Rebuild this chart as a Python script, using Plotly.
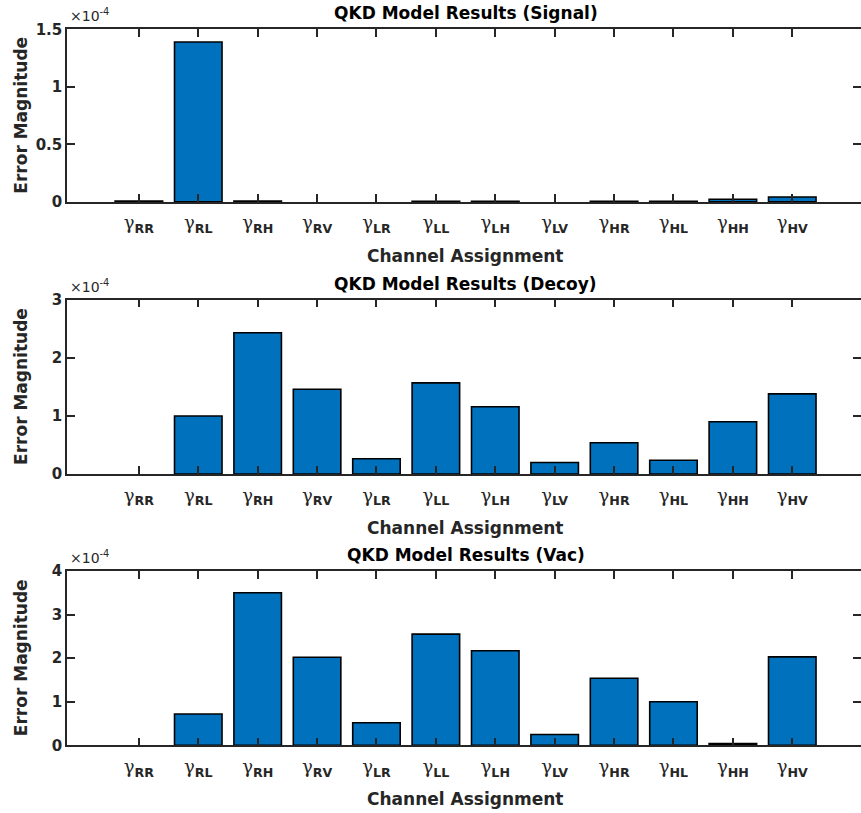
import plotly.graph_objects as go

categories = ["RR", "RL", "RH", "RV", "LR", "LL", "LH", "LV", "HR", "HL", "HH", "HV"]
tick_labels = ['<span style="font-family:DejaVu Serif">γ</span><sub><b>%s</b></sub>' % c for c in categories]

signal_vals = [0.008, 1.39, 0.008, 0.0, 0.0, 0.005, 0.005, 0.0, 0.005, 0.005, 0.023, 0.043]
decoy_vals = [0.0, 1.00, 2.43, 1.46, 0.265, 1.57, 1.16, 0.20, 0.54, 0.24, 0.90, 1.38]
vac_vals = [0.0, 0.72, 3.50, 2.02, 0.52, 2.55, 2.17, 0.25, 1.54, 1.00, 0.04, 2.03]
scale = 1e-4

panels = [
    ("QKD Model Results (Signal)", signal_vals, [0, 1.5], [0, 0.5, 1, 1.5], ["0", "0.5", "1", "1.5"]),
    ("QKD Model Results (Decoy)", decoy_vals, [0, 3], [0, 1, 2, 3], ["0", "1", "2", "3"]),
    ("QKD Model Results (Vac)", vac_vals, [0, 4], [0, 1, 2, 3, 4], ["0", "1", "2", "3", "4"]),
]

W, H = 861, 813
boxes = [(28, 201), (299, 474), (571, 746)]
left_px = 67

FONT = "DejaVu Sans, Liberation Sans, Arial, sans-serif"
TXT = "#262626"
BAR = "#0072BD"

# observed vertical placement of the paper area in the rendered page
PAPER_TOP = 7.55
PAPER_H = 797.2

fig = go.Figure()
annotations = []
layout = dict(
    width=W, height=H,
    margin=dict(l=0, r=0, t=0, b=0, pad=0),
    plot_bgcolor="white", paper_bgcolor="white",
    showlegend=False,
    font=dict(family=FONT, color=TXT, size=13),
)

def py(px):
    return 1 - (px - PAPER_TOP) / PAPER_H

for i, (title, vals, yr, tv, tt) in enumerate(panels):
    n = i + 1
    xa = "x" if n == 1 else "x%d" % n
    ya = "y" if n == 1 else "y%d" % n
    yo = "y%d" % (n + 3)
    top, bot = boxes[i]
    dom = [py(bot), py(top)]
    fig.add_trace(go.Bar(
        x=tick_labels, y=[v * scale for v in vals], xaxis=xa, yaxis=ya,
        marker=dict(color=BAR, line=dict(color="black", width=[1.6 if v > 0 else 0 for v in vals])),
        width=0.8,
    ))
    fig.add_trace(go.Scatter(x=[], y=[], xaxis=xa, yaxis=yo, hoverinfo="skip"))
    xkey = "xaxis" if n == 1 else "xaxis%d" % n
    ykey = "yaxis" if n == 1 else "yaxis%d" % n
    yokey = "yaxis%d" % (n + 3)
    layout[xkey] = dict(
        domain=[left_px / W, 1], anchor=ya, type="category",
        range=[-1.21, 12.157],
        showline=True, linecolor=TXT, linewidth=1.5, mirror="ticks",
        ticks="inside", ticklen=8, tickwidth=1.5, tickcolor=TXT,
        tickfont=dict(family=FONT, size=18, color=TXT),
        showgrid=False, zeroline=False, fixedrange=True,
        ticklabelstandoff=4,
    )
    layout[ykey] = dict(
        domain=dom, anchor=xa,
        range=[yr[0] * scale, yr[1] * scale],
        tickvals=[v * scale for v in tv], ticktext=["<b>%s</b>" % t for t in tt],
        showline=True, linecolor=TXT, linewidth=1.5,
        ticks="inside", ticklen=8, tickwidth=1.5, tickcolor=TXT,
        tickfont=dict(family=FONT, size=15, color=TXT),
        showgrid=False, zeroline=False, fixedrange=True,
    )
    layout[yokey] = dict(
        overlaying=ya, anchor=xa, side="right",
        range=[yr[0] * scale, yr[1] * scale],
        tickvals=[v * scale for v in tv],
        showticklabels=False, showline=False,
        ticks="inside", ticklen=8, tickwidth=1.5, tickcolor=TXT,
        showgrid=False, zeroline=False, fixedrange=True,
    )
    cx = (left_px + 864) / 2 / W
    annotations.append(dict(
        text="<b>%s</b>" % title, x=cx, y=py(top - 16), xref="paper", yref="paper",
        xanchor="center", yanchor="middle", showarrow=False,
        font=dict(family=FONT, size=17, color="black"),
    ))
    annotations.append(dict(
        text="×10<sup>-4</sup>", x=(left_px + 1) / W, y=py(top - 3), xref="paper", yref="paper",
        xanchor="left", yanchor="bottom", showarrow=False,
        font=dict(family=FONT, size=14, color=TXT),
    ))
    annotations.append(dict(
        text="<b>Channel Assignment</b>", x=cx, y=py(bot + 54), xref="paper", yref="paper",
        xanchor="center", yanchor="middle", showarrow=False,
        font=dict(family=FONT, size=17, color=TXT),
    ))
    annotations.append(dict(
        text="<b>Error Magnitude</b>", x=21 / W, y=py((top + bot) / 2), xref="paper", yref="paper",
        xanchor="center", yanchor="middle", showarrow=False, textangle=-90,
        font=dict(family=FONT, size=17, color=TXT),
    ))

layout["annotations"] = annotations
fig.update_layout(**layout)
fig.write_html(
    "out.html",
    config={"displayModeBar": False},
    post_script=(
        "document.documentElement.style.margin='0';"
        "document.documentElement.style.overflow='hidden';"
        "document.body.style.margin='0';"
        "document.body.style.overflow='hidden';"
        "var d=document.querySelector('.plotly-graph-div');"
        "d.style.position='fixed';d.style.top='0px';d.style.left='0px';"
    ),
)
